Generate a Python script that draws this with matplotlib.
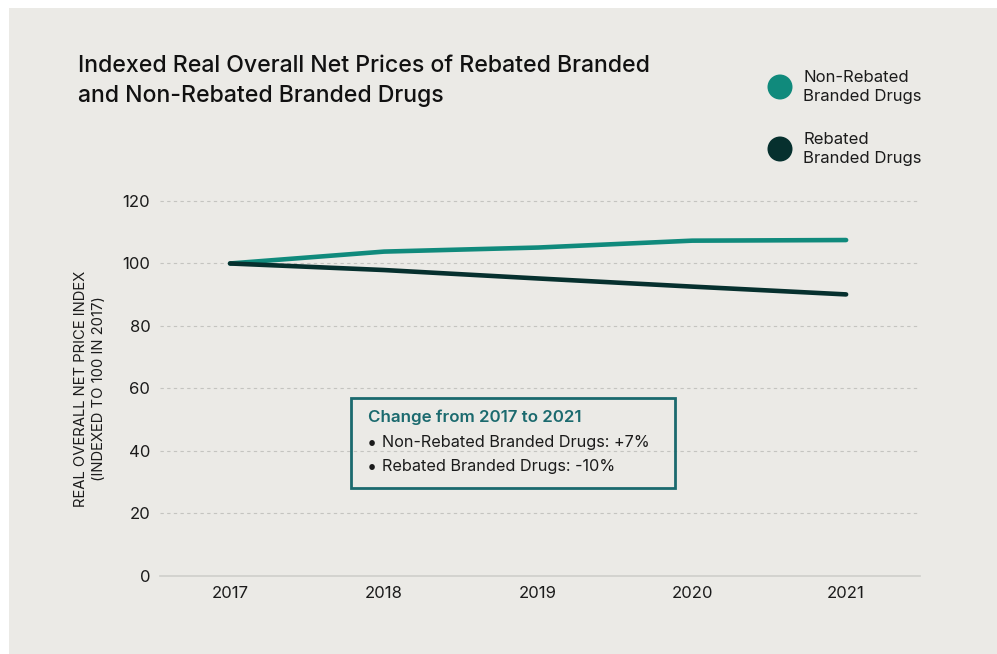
"""Indexed real overall net prices: rebated vs non-rebated branded drugs."""

import matplotlib.pyplot as plt
from matplotlib.patches import Circle, Rectangle

years = [2017, 2018, 2019, 2020, 2021]
non_rebated = [100.0, 103.8, 105.1, 107.3, 107.5]
rebated = [100.0, 97.9, 95.2, 92.6, 90.1]
y_ticks = [0, 20, 40, 60, 80, 100, 120]

series_names = ["Non-Rebated\nBranded Drugs", "Rebated\nBranded Drugs"]
change_lines = ["Non-Rebated Branded Drugs: +7%", "Rebated Branded Drugs: -10%"]

BG = "#ebeae6"
TEAL = "#108a7c"
DARK = "#06302e"
BOX_EDGE = "#1b6a6e"
TEXT = "#1b1b1b"

W, H = 997, 654

plt.rcParams["font.family"] = ["Inter", "DejaVu Sans"]

fig = plt.figure(figsize=(W / 100, H / 100), dpi=100)
fig.patch.set_facecolor("white")
fig.patches.append(Rectangle((9 / W, 0), 1 - 9 / W, 1 - 8 / H,
                             transform=fig.transFigure, facecolor=BG,
                             edgecolor="none", zorder=-10))

ax = fig.add_axes([0.1605, 0.1193, 0.7623, 0.5734])
ax.set_facecolor("none")

ax.plot(years, non_rebated, color=TEAL, lw=3.3, solid_capstyle="round",
        solid_joinstyle="round", zorder=3)
ax.plot(years, rebated, color=DARK, lw=3.3, solid_capstyle="round",
        solid_joinstyle="round", zorder=4)

ax.set_xlim(2016.545, 2021.48)
ax.set_ylim(0, 120)
ax.set_xticks(years)
ax.set_xticklabels([str(y) for y in years])
ax.set_yticks(y_ticks)

for v in y_ticks[1:]:
    ax.axhline(v, color="#c4c4c0", lw=0.8, ls=(0, (3, 3)), zorder=1, clip_on=False)
ax.axhline(0, color="#cfcfcb", lw=1.2, zorder=1, clip_on=False)

for s in ax.spines.values():
    s.set_visible(False)
ax.tick_params(axis="both", length=0, labelsize=12, labelcolor=TEXT)
ax.tick_params(axis="x", pad=7)
ax.tick_params(axis="y", pad=7)

ax.set_ylabel("REAL OVERALL NET PRICE INDEX\n(INDEXED TO 100 IN 2017)",
              fontsize=10.7, color=TEXT, labelpad=12, linespacing=1.3)

fig.text(78 / W, 1 - 81 / H,
         "Indexed Real Overall Net Prices of Rebated Branded\nand Non-Rebated Branded Drugs",
         fontsize=16.6, fontweight="medium", color="#111111", va="center",
         linespacing=1.45)

# legend: filled dots with two-line labels
for i, (name, col) in enumerate(zip(series_names, [TEAL, DARK])):
    cy = 87 + 62 * i
    fig.patches.append(Circle((780 / 100, (H - cy) / 100), 0.125,
                              transform=fig.dpi_scale_trans,
                              facecolor=col, edgecolor="none"))
    fig.text(803 / W, 1 - cy / H, name, fontsize=12, color=TEXT, va="center",
             linespacing=1.35)

# summary box
fig.patches.append(Rectangle((351 / W, 1 - 488 / H), (675 - 351) / W, (488 - 398) / H,
                             transform=fig.transFigure, facecolor="none",
                             edgecolor=BOX_EDGE, lw=2))
fig.text(368 / W, 1 - 417 / H, "Change from 2017 to 2021", fontsize=12.2,
         fontweight="semibold", color=BOX_EDGE, va="center")
for i, line in enumerate(change_lines):
    y = 1 - (443 + 24 * i) / H
    fig.text(367 / W, y, "\u2022", fontsize=13, color=TEXT, va="center")
    fig.text(382 / W, y, line, fontsize=11.7, color=TEXT, va="center")

fig.savefig("out.png", dpi=100, facecolor=fig.get_facecolor())
